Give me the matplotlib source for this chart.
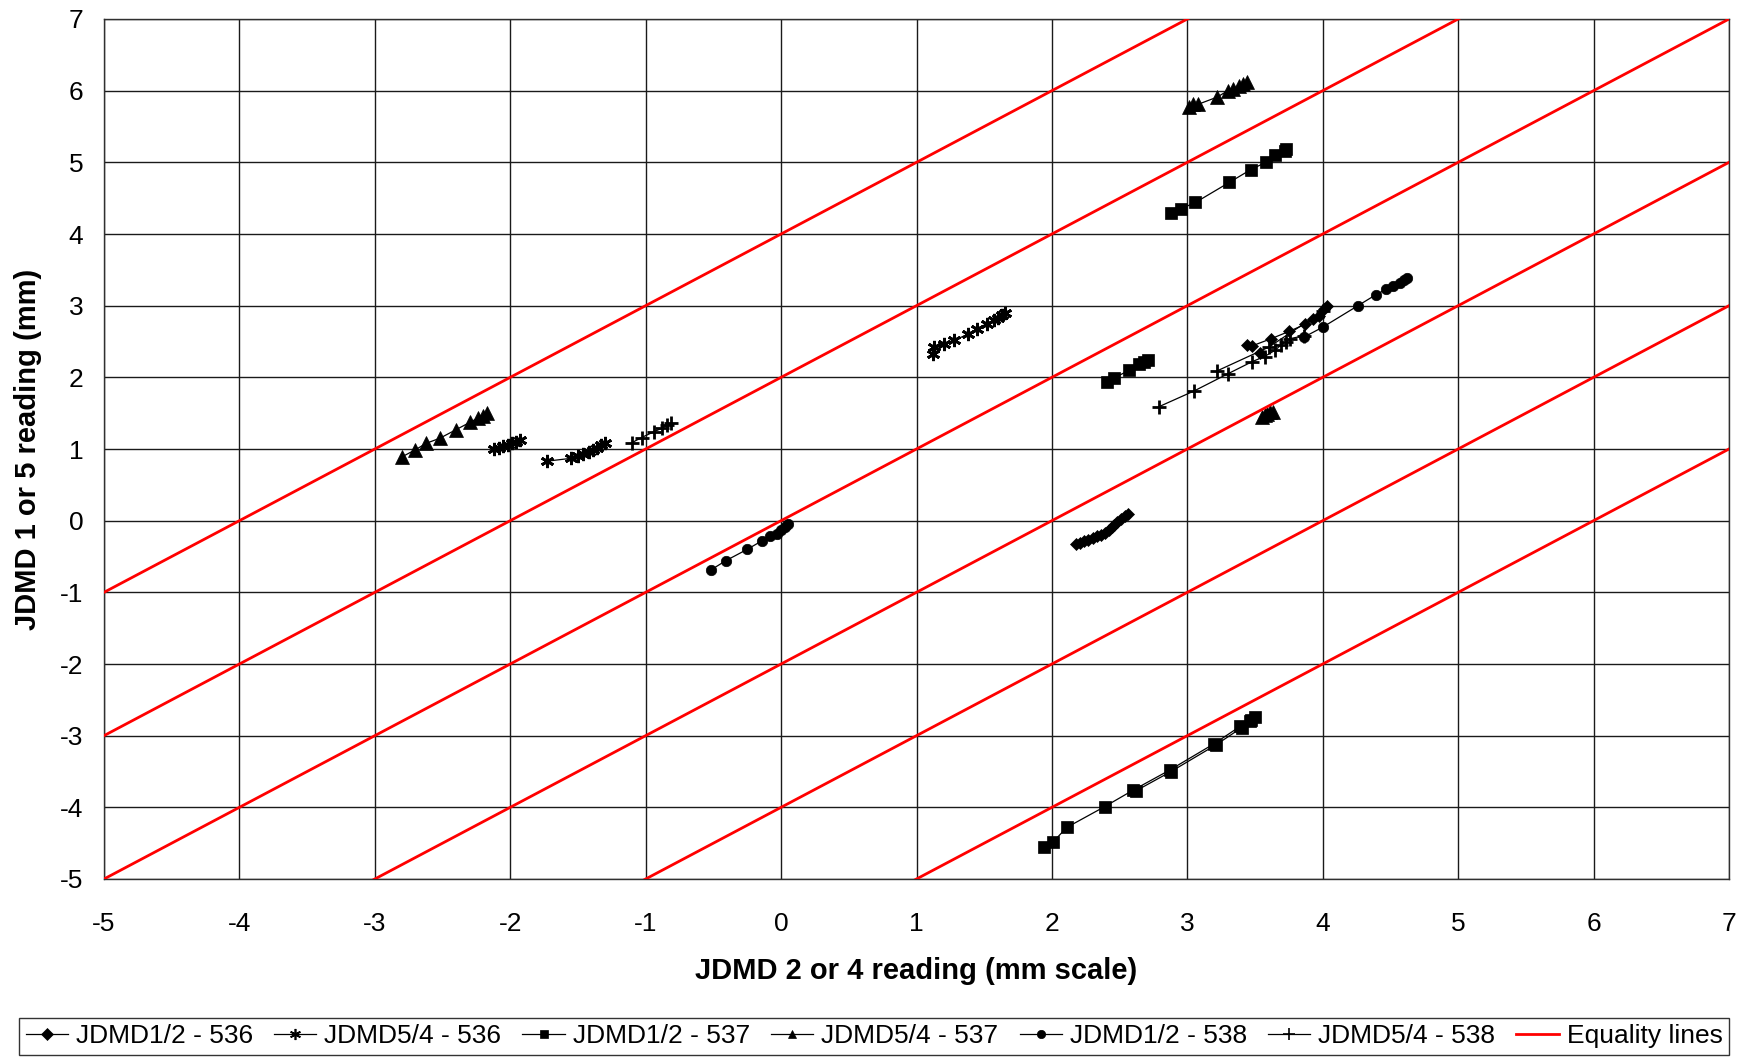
import numpy as np
import matplotlib
matplotlib.use("Agg")
import matplotlib.pyplot as plt

#---------------------------- Data ----------------------------
nan = np.nan

# JDMD1/2 - 536 (diamonds)
d12_536_x = [3.44, 3.48, 3.62, 3.75, 3.87, 3.93, 3.97, 4.01, 4.03, nan, 3.54, nan,
             2.18, 2.21, 2.24, 2.27, 2.30, 2.33, 2.36, 2.39, 2.42, 2.44, 2.46, 2.48, 2.51, 2.54, 2.56]
d12_536_y = [2.45, 2.44, 2.54, 2.64, 2.74, 2.81, 2.85, 2.96, 3.00, nan, 2.34, nan,
             -0.33, -0.31, -0.29, -0.27, -0.24, -0.22, -0.20, -0.17, -0.13, -0.09, -0.06, -0.02, 0.03, 0.07, 0.09]

# JDMD5/4 - 536 (asterisks)
d54_536_x = [-2.12, -2.08, -2.05, -2.02, -1.99, -1.96, -1.93, nan,
             -1.73, -1.55, -1.50, -1.46, -1.42, -1.39, -1.36, -1.33, -1.30, nan,
             1.12, 1.13, 1.20, 1.28, 1.38, 1.45, 1.52, 1.57, 1.60, 1.63, 1.65]
d54_536_y = [1.00, 1.02, 1.04, 1.06, 1.08, 1.10, 1.13, nan,
             0.83, 0.87, 0.90, 0.93, 0.96, 0.99, 1.02, 1.05, 1.08, nan,
             2.33, 2.42, 2.47, 2.52, 2.60, 2.68, 2.75, 2.80, 2.83, 2.87, 2.90]

# JDMD1/2 - 537 (squares)
d12_537_x = [2.88, 2.95, 3.06, 3.31, 3.47, 3.58, 3.65, 3.72, 3.73, nan,
             2.41, 2.46, 2.57, 2.64, 2.68, 2.71, nan,
             1.94, 2.01, 2.11, 2.39, 2.60, 2.87, 3.20, 3.39, 3.46, 3.50,
             3.47, 3.40, 3.21, 2.88, 2.62]
d12_537_y = [4.29, 4.35, 4.44, 4.72, 4.90, 5.00, 5.10, 5.16, 5.18, nan,
             1.94, 1.99, 2.10, 2.18, 2.21, 2.24, nan,
             -4.55, -4.48, -4.28, -3.99, -3.76, -3.48, -3.11, -2.87, -2.79, -2.74,
             -2.78, -2.89, -3.13, -3.50, -3.77]

# JDMD5/4 - 537 (triangles)
d54_537_x = [-2.80, -2.70, -2.62, -2.52, -2.40, -2.30, -2.24, -2.20, -2.17, nan,
             3.01, 3.04, 3.08, 3.22, 3.30, 3.34, 3.38, 3.41, 3.44, nan,
             3.55, 3.57, 3.59, 3.61, 3.63]
d54_537_y = [0.89, 0.99, 1.08, 1.15, 1.27, 1.37, 1.43, 1.46, 1.50, nan,
             5.77, 5.82, 5.81, 5.91, 6.00, 6.03, 6.06, 6.09, 6.12, nan,
             1.45, 1.47, 1.49, 1.51, 1.52]

# JDMD1/2 - 538 (circles)
d12_538_x = [-0.52, -0.41, -0.25, -0.14, -0.08, -0.03, 0.00, 0.03, 0.05, nan,
             3.86, 4.00, 4.26, 4.39, 4.47, 4.52, 4.57, 4.60, 4.62]
d12_538_y = [-0.69, -0.56, -0.40, -0.28, -0.21, -0.18, -0.13, -0.09, -0.05, nan,
             2.56, 2.70, 3.00, 3.15, 3.23, 3.27, 3.32, 3.36, 3.38]

# JDMD5/4 - 538 (plus)
d54_538_x = [-1.10, -1.03, -0.94, -0.88, -0.84, -0.81, nan,
             2.79, 3.05, 3.30, 3.48, 3.57, 3.65, 3.69, 3.73, 3.76, 3.86, nan,
             3.22, 3.60, 4.00]
d54_538_y = [1.09, 1.16, 1.24, 1.29, 1.33, 1.36, nan,
             1.59, 1.81, 2.05, 2.22, 2.29, 2.38, 2.45, 2.50, 2.54, 2.58, nan,
             2.09, 2.42, 2.92]

# offsets of the y = x + c equality lines
eq_offsets = [4, 2, 0, -2, -4, -6]

ticks = list(range(-5, 8))

#---------------------------- Plot ----------------------------
plt.rcParams['font.family'] = ['Liberation Sans', 'DejaVu Sans']

fig = plt.figure(figsize=(17.51, 10.57), dpi=100)
ax_left, ax_right = 104/1751, 1729/1751
ax = fig.add_axes([ax_left, 1 - 879/1057, ax_right - ax_left, 860/1057])

series = [
    (d12_536_x, d12_536_y, "D", 6.5, "JDMD1/2 - 536"),
    (d54_536_x, d54_536_y, (6, 2, 0), 9.5, "JDMD5/4 - 536"),
    (d12_537_x, d12_537_y, "s", 8, "JDMD1/2 - 537"),
    (d54_537_x, d54_537_y, "^", 10, "JDMD5/4 - 537"),
    (d12_538_x, d12_538_y, "o", 7.5, "JDMD1/2 - 538"),
    (d54_538_x, d54_538_y, "+", 10, "JDMD5/4 - 538"),
]
for xs, ys, mk, ms, lab in series:
    ax.plot(xs, ys, color="black", lw=0.9, marker=mk, markersize=ms,
            markeredgewidth=2.0 if mk in ("+", (6, 2, 0)) else 0.5,
            markerfacecolor="black", markeredgecolor="black", label=lab, zorder=2)

# equality lines, one entry in the legend
ex = []
ey = []
for c in eq_offsets:
    ex += [-5, 7, nan]
    ey += [-5 + c, 7 + c, nan]
ax.plot(ex, ey, color="#ff0000", lw=2.0, label="Equality lines", zorder=3)

ax.set_xlim(-5, 7)
ax.set_ylim(-5, 7)
ax.set_xticks(ticks)
ax.set_yticks(ticks)
ax.set_xticklabels([str(t) for t in ticks])
ax.set_yticklabels([str(t) for t in ticks])
ax.tick_params(axis="x", length=0, pad=24, labelsize=19)
ax.tick_params(axis="y", length=0, pad=15, labelsize=19)
ax.grid(True, color="#1a1a1a", lw=1.0)
ax.set_axisbelow(True)
for s in ax.spines.values():
    s.set_color("#303030")
    s.set_linewidth(1.0)

fig.text((ax_left + ax_right) / 2, 1 - 971/1057, "JDMD 2 or 4 reading (mm scale)",
         ha="center", va="center", fontsize=21, fontweight="bold")
fig.text(28/1751, 1 - 449/1057, "JDMD 1 or 5 reading (mm)", ha="center", va="center",
         rotation=90, fontsize=21, fontweight="bold")

leg = fig.legend(loc="lower left", bbox_to_anchor=(19/1751, 2/1057, 1710/1751, 40/1057),
                 mode="expand", ncol=7, fontsize=19, frameon=True, fancybox=False,
                 edgecolor="black", handlelength=1.6, handletextpad=0.3,
                 columnspacing=0.6, borderpad=0.25, borderaxespad=0)
leg.get_frame().set_linewidth(1.0)
for h in leg.legend_handles[:6]:
    h.set_markersize(6)
leg.legend_handles[1].set_markersize(8)
leg.legend_handles[1].set_markeredgewidth(1.2)
leg.legend_handles[5].set_markersize(8)
leg.legend_handles[5].set_markeredgewidth(1.2)

fig.savefig("out.png", dpi=100)
